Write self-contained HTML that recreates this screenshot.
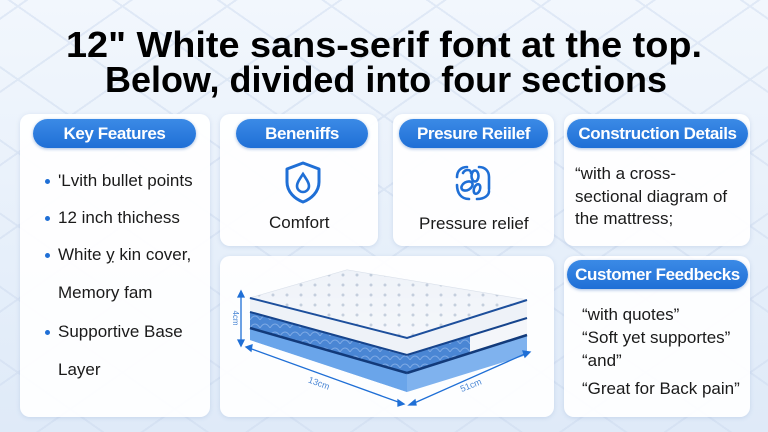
<!DOCTYPE html>
<html><head><meta charset="utf-8">
<style>
html,body{margin:0;padding:0}
body{width:768px;height:432px;overflow:hidden;position:relative;font-family:"Liberation Sans",sans-serif;
background:linear-gradient(180deg,#f2f7fd 0%,#e6effa 60%,#dfeaf8 100%);}
.bg{position:absolute;inset:0;opacity:.5;
background-image:repeating-linear-gradient(35deg,transparent 0 58px,#cfdcf0 58px 60px),repeating-linear-gradient(-35deg,transparent 0 58px,#cfdcf0 58px 60px);}
.card{position:absolute;background:rgba(255,255,255,.93);border-radius:10px;box-shadow:0 1px 4px rgba(120,150,200,.25)}
.pill{position:absolute;height:29px;border-radius:15px;background:linear-gradient(#3b8ae6,#1f6fd6);color:#fff;font-weight:bold;font-size:17px;line-height:29px;text-align:center;letter-spacing:-0.4px;box-shadow:0 1px 3px rgba(30,90,180,.4)}
.t{position:absolute;font-size:17px;color:#1a1a1a;white-space:nowrap}
.dot{position:absolute;width:5px;height:5px;border-radius:50%;background:#1f6fd6}
</style></head><body>
<div class="bg"></div>
<svg style="position:absolute;left:0;top:0" width="768" height="110">
<text x="384" y="57" text-anchor="middle" font-family="Liberation Sans" font-weight="bold" font-size="36" textLength="636" lengthAdjust="spacingAndGlyphs" fill="#000">12" White sans-serif font at the top.</text>
<text x="386" y="92" text-anchor="middle" font-family="Liberation Sans" font-weight="bold" font-size="36" textLength="562" lengthAdjust="spacingAndGlyphs" fill="#000">Below, divided into four sections</text>
</svg>

<div class="card" style="left:20px;top:114px;width:190px;height:303px"></div>
<div class="card" style="left:220px;top:114px;width:158px;height:132px"></div>
<div class="card" style="left:393px;top:114px;width:161px;height:132px"></div>
<div class="card" style="left:564px;top:114px;width:186px;height:132px"></div>
<div class="card" style="left:220px;top:256px;width:334px;height:161px"></div>
<div class="card" style="left:564px;top:256px;width:186px;height:161px"></div>

<div class="pill" style="left:33px;top:119px;width:163px">Key Features</div>
<div class="pill" style="left:236px;top:119px;width:132px">Beneniffs</div>
<div class="pill" style="left:399px;top:119px;width:149px">Presure Reiilef</div>
<div class="pill" style="left:567px;top:119px;width:181px">Construction Details</div>
<div class="pill" style="left:567px;top:260px;width:181px">Customer Feedbecks</div>

<div class="dot" style="left:45px;top:179px"></div>
<div class="t" style="left:58px;top:171px">'Lvith bullet points</div>
<div class="dot" style="left:45px;top:216px"></div>
<div class="t" style="left:58px;top:208px">12 inch thichess</div>
<div class="dot" style="left:45px;top:253px"></div>
<div class="t" style="left:58px;top:245px">White ỵ kin cover,</div>
<div class="t" style="left:58px;top:283px">Memory fam</div>
<div class="dot" style="left:45px;top:330px"></div>
<div class="t" style="left:58px;top:322px">Supportive Base</div>
<div class="t" style="left:58px;top:360px">Layer</div>

<svg style="position:absolute;left:283px;top:160px" width="40" height="46" viewBox="0 0 40 46">
<path d="M20 3 L36 9 V22 C36 32 28 39 20 42 C12 39 4 32 4 22 V9 Z" fill="none" stroke="#1f6fd6" stroke-width="3" stroke-linejoin="round"/>
<path d="M20 14 C16 20 14 23 14 26 A6 6 0 0 0 26 26 C26 23 24 20 20 14 Z" fill="none" stroke="#1f6fd6" stroke-width="2.6"/>
</svg>
<div class="t" style="left:269px;top:213px">Comfort</div>

<svg style="position:absolute;left:453px;top:163px" width="40" height="40" viewBox="0 0 40 40">
<g fill="none" stroke="#1f6fd6" stroke-width="2.6" stroke-linecap="round">
<path d="M14 4 C8 4 4 8 4 14"/><path d="M26 4 C32 4 36 8 36 14 V26"/><path d="M4 22 C4 30 8 36 16 36"/><path d="M24 36 C32 36 36 32 36 28"/>
<path d="M10 10 C12 6 18 6 18 10"/>
<ellipse cx="22" cy="13" rx="3.5" ry="5.5"/><ellipse cx="14" cy="23" rx="6" ry="4" transform="rotate(-30 14 23)"/><ellipse cx="24" cy="26" rx="3" ry="5" transform="rotate(20 24 26)"/>
</g></svg>
<div class="t" style="left:419px;top:214px">Pressure relief</div>

<div class="t" style="left:575px;top:163px;line-height:22.5px">“with a cross-<br>sectional diagram of<br>the mattress;</div>

<div class="t" style="left:582px;top:303px;line-height:23px">“with quotes”<br>“Soft yet supportes”<br>“and”</div>
<div class="t" style="left:582px;top:379px">“Great for Back pain”</div>

<svg style="position:absolute;left:220px;top:256px" width="334" height="161" viewBox="220 256 334 161">
<defs>
<pattern id="q" width="10" height="8" patternUnits="userSpaceOnUse"><rect width="10" height="8" fill="#4a86d4"/><path d="M0 8 Q5 0 10 8" fill="none" stroke="#7eaae5" stroke-width="1"/></pattern>
<pattern id="w" width="14" height="10" patternUnits="userSpaceOnUse"><rect width="14" height="10" fill="#f2f5fa"/><circle cx="7" cy="5" r="1.5" fill="#b9c5d6"/></pattern>
<linearGradient id="tg" x1="0" y1="0" x2="0" y2="1"><stop offset="0" stop-color="#e4eaf3"/><stop offset="1" stop-color="#ffffff"/></linearGradient>
</defs>
<polygon points="250,327 407,372 527,336 527,355 407,392 250,340" fill="#7fb2ee"/>
<polygon points="250,327 407,372 407,392 250,340" fill="#6aa5ea"/>
<polygon points="250,311 407,352 527,316 527,334 407,373 250,328" fill="url(#q)"/>
<polygon points="470,336 527,318 527,334 470,352" fill="#f4f6fa"/>
<line x1="250" y1="328" x2="407" y2="373" stroke="#123a7a" stroke-width="2.5"/>
<line x1="407" y1="373" x2="527" y2="335" stroke="#123a7a" stroke-width="2.5"/>
<polygon points="250,298 407,338 527,300 527,318 407,356 250,312" fill="#eef2f8"/>
<line x1="250" y1="312" x2="407" y2="355" stroke="#16448c" stroke-width="2"/>
<line x1="407" y1="355" x2="527" y2="318" stroke="#16448c" stroke-width="2"/>
<polygon points="250,298 347,270 527,300 407,338" fill="url(#tg)" stroke="#d6dde8" stroke-width="1"/>
<polygon points="250,298 347,270 527,300 407,338" fill="url(#w)" opacity="0.8"/>
<polyline points="250,298 407,338 527,300" fill="none" stroke="#1d4f9c" stroke-width="2"/>
<g stroke="#1f6fd6" stroke-width="1.3" fill="#1f6fd6">
<line x1="241" y1="295" x2="241" y2="342"/><polygon points="238,297 244,297 241,291"/><polygon points="238,340 244,340 241,346"/>
<line x1="249" y1="348" x2="401" y2="403"/><polygon points="246,347 252,345 251,351"/><polygon points="404,404 398,400 398,406"/>
<line x1="412" y1="404" x2="527" y2="353"/><polygon points="409,405 415,400 416,405"/><polygon points="530,352 523,351 525,357"/>
</g>
<text x="233" y="318" font-size="8" fill="#4a86d4" transform="rotate(90 233 318)" text-anchor="middle">4cm</text>
<text x="318" y="386" font-size="9" fill="#4a86d4" transform="rotate(20 318 386)" text-anchor="middle">13cm</text>
<text x="472" y="388" font-size="9" fill="#4a86d4" transform="rotate(-22 472 388)" text-anchor="middle">51cm</text>
</svg>
</body></html>
